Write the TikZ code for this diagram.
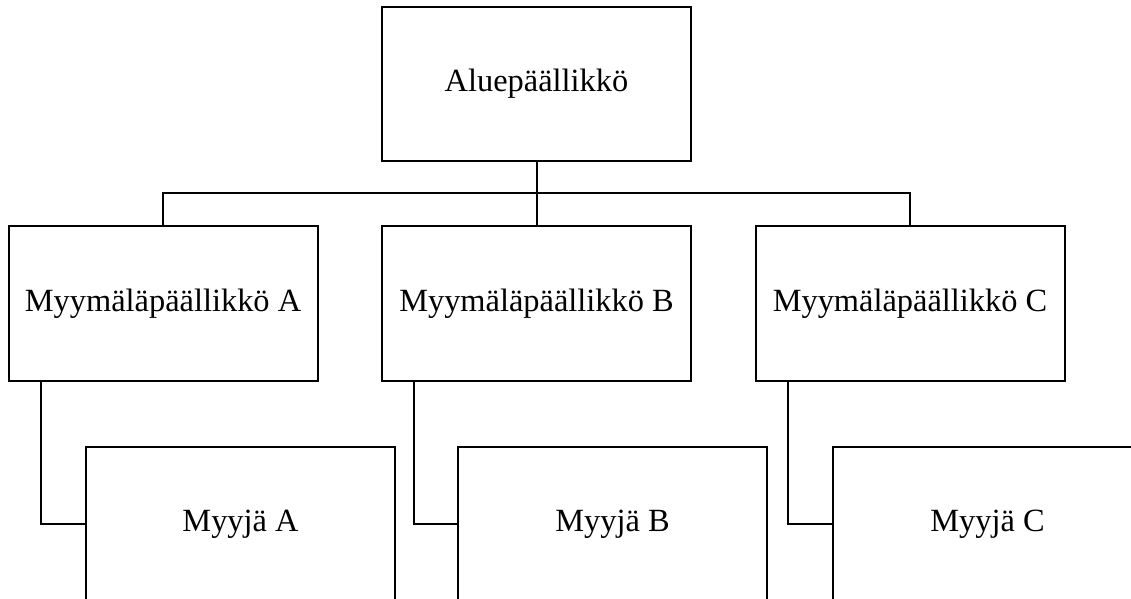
\documentclass[tikz,border=0pt]{standalone}
\usepackage{fontspec}
\setmainfont{Liberation Serif}
\begin{document}
\begin{tikzpicture}[x=0.5pt,y=-0.5pt,
  box/.style={draw,line width=1pt,inner sep=0pt,outer sep=0pt,
    minimum width=154.5pt,minimum height=77pt,
    font=\fontsize{16.2pt}{19pt}\selectfont},
  link/.style={line width=1pt}]
\useasboundingbox (0,0) rectangle (1131,599);
\clip (0,0) rectangle (1131,599);
% top level
\node[box] (top) at (536.5,84) {Aluepäällikkö};
% store managers
\node[box] (ma) at (163,303.5) {Myymäläpäällikkö A};
\node[box] (mb) at (536.5,303.5) {Myymäläpäällikkö B};
\node[box] (mc) at (910,303.5) {Myymäläpäällikkö C};
% sellers (boxes run past the lower edge)
\node[box] (sa) at (240.5,524) {Myyjä A};
\node[box] (sb) at (612.5,524) {Myyjä B};
\node[box] (sc) at (987.5,524) {Myyjä C};
% connectors
\coordinate (bar) at (536.5,193);
\draw[link] (top.south) -- (bar);
\draw[link] (ma.north) |- (bar) -| (mc.north);
\draw[link] (bar) -- (mb.north);
\draw[link] ([xshift=16pt]ma.south west) |- (sa.west);
\draw[link] ([xshift=16pt]mb.south west) |- (sb.west);
\draw[link] ([xshift=16pt]mc.south west) |- (sc.west);
\end{tikzpicture}
\end{document}
